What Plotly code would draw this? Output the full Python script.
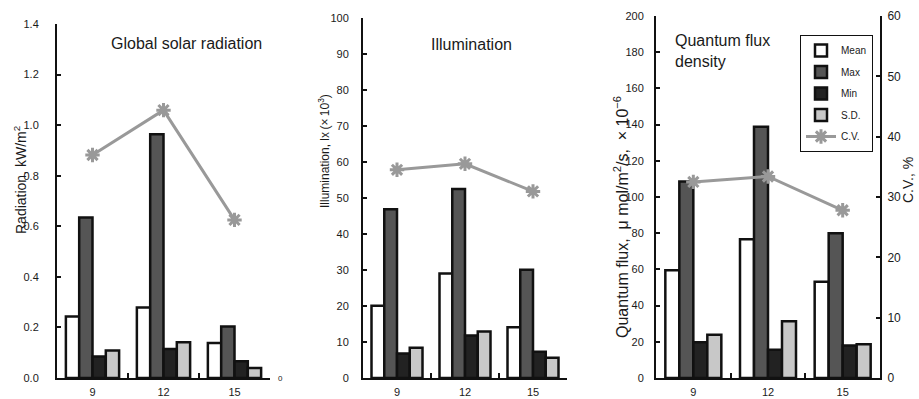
import plotly.graph_objects as go

hours = ["9", "12", "15"]

# Global solar radiation (kW/m2)
rad_mean = [0.243, 0.279, 0.138]
rad_max = [0.635, 0.964, 0.204]
rad_min = [0.085, 0.115, 0.066]
rad_sd = [0.109, 0.141, 0.040]
rad_cv = [37.8, 45.4, 26.8]

# Illumination (lx x 10^3)
ill_mean = [20.1, 29.0, 14.1]
ill_max = [46.9, 52.5, 30.1]
ill_min = [6.8, 11.8, 7.3]
ill_sd = [8.4, 12.9, 5.6]
ill_cv = [34.7, 35.7, 31.1]

# Quantum flux density (umol/m2/s x 10^-6)
qf_mean = [59.5, 76.7, 53.2]
qf_max = [108.5, 138.8, 80.0]
qf_min = [19.7, 15.6, 18.0]
qf_sd = [23.9, 31.3, 18.6]
qf_cv = [32.5, 33.4, 27.8]

series_names = ["Mean", "Max", "Min", "S.D."]
series_colors = ["#ffffff", "#555555", "#222222", "#c8c8c8"]
cv_color = "#999999"

FONT = "Liberation Sans, Arial, sans-serif"

fig = go.Figure()

panels = [
    (rad_mean, rad_max, rad_min, rad_sd, rad_cv, "x", "y", "y4"),
    (ill_mean, ill_max, ill_min, ill_sd, ill_cv, "x2", "y2", "y5"),
    (qf_mean, qf_max, qf_min, qf_sd, qf_cv, "x3", "y3", "y6"),
]

for i, (m, mx, mn, sd, cv, xa, ya, ya2) in enumerate(panels):
    show = (i == 2)
    for name, vals, col in zip(series_names, [m, mx, mn, sd], series_colors):
        fig.add_trace(go.Bar(
            x=hours, y=vals, name=name, xaxis=xa, yaxis=ya,
            marker=dict(color=col, line=dict(color="#111111", width=2.5)),
            showlegend=show, offsetgroup=name, legendgroup=name,
        ))
    fig.add_trace(go.Scatter(
        x=hours, y=cv, name="C.V.", xaxis=xa, yaxis=ya2, mode="lines+markers",
        line=dict(color=cv_color, width=3),
        marker=dict(symbol="asterisk", size=12, color=cv_color,
                    line=dict(color=cv_color, width=3)),
        showlegend=show, legendgroup="cv",
    ))

ybot = 1 - 378 / 399
xdoms = [[57 / 919, 270 / 919], [363 / 919, 567 / 919], [656 / 919, 880 / 919]]
ytops = [1 - 24 / 399, 1 - 18 / 399, 1 - 16 / 399]

axis_common = dict(showline=True, linecolor="#111111", linewidth=2,
                   ticks="inside", tickcolor="#111111", tickwidth=2,
                   showgrid=False, zeroline=False, layer="above traces",
                   automargin=False,
                   tickfont=dict(family=FONT, size=11, color="#1a1a1a"))

xkw = dict(axis_common, type="category", tickson="boundaries", ticklen=5,
           ticklabelstandoff=3)
fig.update_layout(
    xaxis=dict(xkw, domain=xdoms[0], anchor="y"),
    xaxis2=dict(xkw, domain=xdoms[1], anchor="y2"),
    xaxis3=dict(xkw, domain=xdoms[2], anchor="y3"),
    yaxis=dict(axis_common, domain=[ybot, ytops[0]], anchor="x", range=[0, 1.4],
               dtick=0.2, tickformat=".1f", ticklen=4, ticklabelstandoff=14),
    yaxis2=dict(axis_common, domain=[ybot, ytops[1]], anchor="x2", range=[0, 100],
                dtick=10, ticklen=4, ticklabelstandoff=10),
    yaxis3=dict(axis_common, domain=[ybot, ytops[2]], anchor="x3", range=[0, 200],
                dtick=20, ticklen=4, ticklabelstandoff=8),
    yaxis4=dict(overlaying="y", side="right", anchor="x", range=[0, 60],
                tickvals=[0], showline=False, ticks="", showgrid=False,
                zeroline=False, ticklabelstandoff=7, automargin=False,
                tickfont=dict(family=FONT, size=8, color="#1a1a1a")),
    yaxis5=dict(overlaying="y2", side="right", anchor="x2", range=[0, 60],
                visible=False, automargin=False),
    yaxis6=dict(axis_common, overlaying="y3", side="right", anchor="x3",
                range=[0, 60], dtick=10, ticklen=4, ticklabelstandoff=3,
                tickfont=dict(family=FONT, size=12, color="#1a1a1a")),
)

annotations = [
    dict(text="Global solar radiation", x=186, y=43, size=16),
    dict(text="Illumination", x=471, y=45, size=16),
    dict(text="Quantum flux<br>density", x=673, y=51, xanchor="left", align="left", size=16),
    dict(text="Radiation, kW/m<sup>2</sup>", x=20, y=180, textangle=-90, size=14),
    dict(text="Illumination, lx\u2009(\u00d7\u200910<sup>3</sup>)", x=324, y=151,
         textangle=-90, size=12),
    dict(text="Quantum flux,  \u03bc mol/m<sup>2</sup>/s,  \u00d7 10<sup>\u22126</sup>",
         x=621, y=217, textangle=-90, size=16),
    dict(text="C.V., %", x=908, y=180, textangle=-90, size=14),
]
fig.update_layout(annotations=[
    dict(xref="paper", yref="paper", x=a["x"] / 919, y=1 - a["y"] / 399,
         text=a["text"], showarrow=False,
         font=dict(family=FONT, size=a["size"], color="#1a1a1a"),
         textangle=a.get("textangle", 0),
         xanchor=a.get("xanchor", "center"), yanchor="middle",
         align=a.get("align", "center"))
    for a in annotations
])

fig.update_layout(
    width=919, height=399,
    margin=dict(l=0, r=0, t=0, b=0, pad=0, autoexpand=False),
    paper_bgcolor="white", plot_bgcolor="white",
    barmode="group", bargap=0.25, bargroupgap=0,
    font=dict(family=FONT, size=11, color="#1a1a1a"),
    legend=dict(x=800 / 919, y=1 - 35 / 399, xanchor="left", yanchor="top",
                bgcolor="white", bordercolor="#111111", borderwidth=1,
                font=dict(family=FONT, size=10, color="#1a1a1a"),
                tracegroupgap=2.5, itemwidth=30),
)

fig.write_html("out.html", config={"displayModeBar": False},
               post_script="document.body.style.margin='0';document.body.style.overflow='hidden';")
